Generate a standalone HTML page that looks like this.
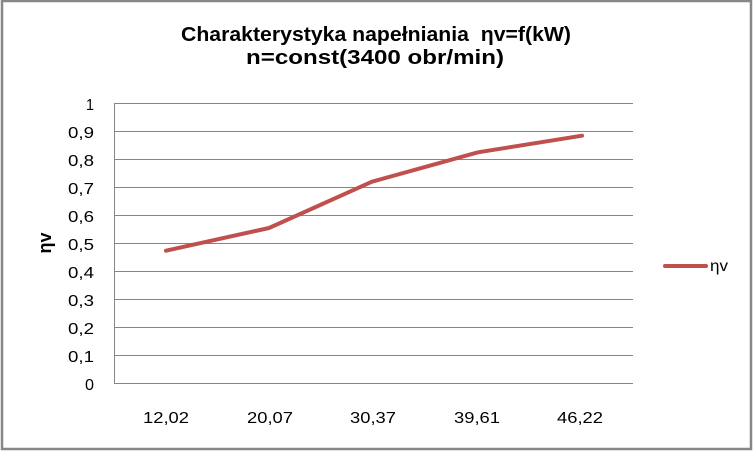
<!DOCTYPE html>
<html>
<head>
<meta charset="utf-8">
<style>
  html, body { margin: 0; padding: 0; background: #ffffff; }
  svg { display: block; }
  text { font-family: "Liberation Sans", "DejaVu Sans", sans-serif; fill: #000; }
</style>
</head>
<body>
<svg width="753" height="451" viewBox="0 0 753 451" xmlns="http://www.w3.org/2000/svg">
  <rect x="0" y="0" width="753" height="451" fill="#ffffff"/>
  <!-- outer border -->
  <rect x="2" y="1" width="749" height="448" fill="none" stroke="#878787" stroke-width="2.5"/>

  <!-- title -->
  <text x="181" y="41" font-size="20" font-weight="bold" textLength="390" lengthAdjust="spacingAndGlyphs">Charakterystyka napełniania&#160;&#160;ηv=f(kW)</text>
  <text x="246" y="64" font-size="20" font-weight="bold" textLength="258" lengthAdjust="spacingAndGlyphs">n=const(3400 obr/min)</text>

  <!-- gridlines -->
  <g stroke="#868686" stroke-width="1">
    <line x1="114" y1="103.5" x2="633" y2="103.5"/>
    <line x1="114" y1="131.5" x2="633" y2="131.5"/>
    <line x1="114" y1="159.5" x2="633" y2="159.5"/>
    <line x1="114" y1="187.5" x2="633" y2="187.5"/>
    <line x1="114" y1="215.5" x2="633" y2="215.5"/>
    <line x1="114" y1="243.5" x2="633" y2="243.5"/>
    <line x1="114" y1="271.5" x2="633" y2="271.5"/>
    <line x1="114" y1="299.5" x2="633" y2="299.5"/>
    <line x1="114" y1="327.5" x2="633" y2="327.5"/>
    <line x1="114" y1="355.5" x2="633" y2="355.5"/>
    <line x1="114" y1="383.5" x2="633" y2="383.5"/>
    <line x1="114.5" y1="103" x2="114.5" y2="384"/>
  </g>

  <!-- y tick labels -->
  <g font-size="16">
    <text x="86" y="110" textLength="8" lengthAdjust="spacingAndGlyphs">1</text>
    <text x="68" y="138" textLength="26" lengthAdjust="spacingAndGlyphs">0,9</text>
    <text x="68" y="166" textLength="26" lengthAdjust="spacingAndGlyphs">0,8</text>
    <text x="68" y="194" textLength="26" lengthAdjust="spacingAndGlyphs">0,7</text>
    <text x="68" y="222" textLength="26" lengthAdjust="spacingAndGlyphs">0,6</text>
    <text x="68" y="250" textLength="26" lengthAdjust="spacingAndGlyphs">0,5</text>
    <text x="68" y="278" textLength="26" lengthAdjust="spacingAndGlyphs">0,4</text>
    <text x="68" y="306" textLength="26" lengthAdjust="spacingAndGlyphs">0,3</text>
    <text x="68" y="334" textLength="26" lengthAdjust="spacingAndGlyphs">0,2</text>
    <text x="68" y="362" textLength="26" lengthAdjust="spacingAndGlyphs">0,1</text>
    <text x="85" y="390" textLength="9" lengthAdjust="spacingAndGlyphs">0</text>
  </g>

  <!-- y axis title -->
  <text transform="translate(51,243) rotate(-90)" font-size="18" font-weight="bold" text-anchor="middle">ηv</text>

  <!-- x tick labels -->
  <g font-size="16">
    <text x="143" y="423" textLength="46" lengthAdjust="spacingAndGlyphs">12,02</text>
    <text x="247" y="423" textLength="46" lengthAdjust="spacingAndGlyphs">20,07</text>
    <text x="350" y="423" textLength="46" lengthAdjust="spacingAndGlyphs">30,37</text>
    <text x="454" y="423" textLength="46" lengthAdjust="spacingAndGlyphs">39,61</text>
    <text x="557" y="423" textLength="46" lengthAdjust="spacingAndGlyphs">46,22</text>
  </g>

  <!-- series -->
  <polyline points="166,250.7 269,228 372,181.7 478,152.3 582,135.7" fill="none" stroke="#C0504D" stroke-width="4" stroke-linejoin="round" stroke-linecap="round"/>

  <!-- legend -->
  <line x1="665" y1="266" x2="706" y2="266" stroke="#C0504D" stroke-width="4" stroke-linecap="round"/>
  <text x="710" y="271" font-size="16" textLength="18" lengthAdjust="spacingAndGlyphs">ηv</text>
</svg>
</body>
</html>
